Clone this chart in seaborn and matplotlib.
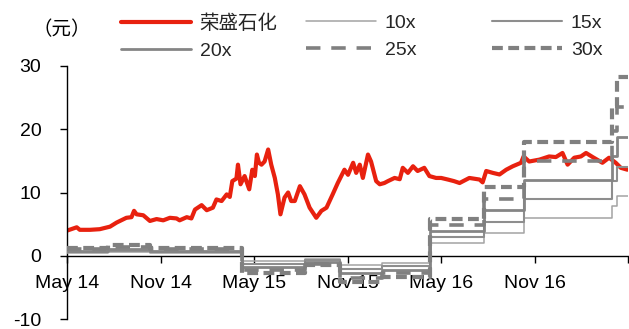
import matplotlib
matplotlib.use('Agg')
import matplotlib.pyplot as plt
import seaborn as sns
import pandas as pd

# ---------------- data ----------------
price_dates = ['2014-05-02','2014-05-20','2014-05-26','2014-06-15','2014-07-04','2014-07-24','2014-08-06','2014-08-25',
               '2014-09-04','2014-09-09','2014-09-14','2014-09-27','2014-10-10','2014-10-23','2014-11-05','2014-11-18',
               '2014-12-01','2014-12-07','2014-12-21','2014-12-30',
               '2015-01-06','2015-01-19','2015-01-29','2015-02-10','2015-02-17','2015-02-27','2015-03-09','2015-03-15',
               '2015-03-20','2015-03-28','2015-03-31','2015-04-05','2015-04-13','2015-04-22','2015-04-28','2015-05-03',
               '2015-05-07','2015-05-11','2015-05-16','2015-05-22','2015-05-29','2015-06-04','2015-06-11','2015-06-17',
               '2015-06-22','2015-06-30','2015-07-07','2015-07-13','2015-07-20','2015-07-30','2015-08-08','2015-08-18',
               '2015-08-31','2015-09-10','2015-09-20','2015-10-02','2015-10-12','2015-10-25','2015-11-01','2015-11-11',
               '2015-11-17','2015-11-24','2015-11-30','2015-12-10','2015-12-16','2015-12-26',
               '2016-01-02','2016-01-11','2016-01-18','2016-01-31','2016-02-10','2016-02-16','2016-02-26','2016-03-07',
               '2016-03-16','2016-03-29','2016-04-08','2016-04-21','2016-05-01','2016-05-14','2016-05-26','2016-06-06',
               '2016-06-25','2016-07-15','2016-07-21','2016-07-28','2016-08-10','2016-08-23','2016-09-05','2016-09-18',
               '2016-10-04','2016-10-09','2016-10-20','2016-11-09','2016-11-28','2016-12-11','2016-12-24',
               '2017-01-03','2017-01-16','2017-01-29','2017-02-08','2017-02-21','2017-03-12','2017-03-25','2017-04-07',
               '2017-04-17','2017-04-30']
price_values = [4.0,4.5,4.1,4.1,4.2,4.6,5.25,6.0,6.1,7.1,6.55,6.4,5.5,5.8,5.6,6.0,5.9,5.6,6.1,5.9,
                7.3,8.0,7.2,7.6,8.9,8.65,9.7,9.3,11.8,12.2,14.4,11.3,12.6,10.5,13.6,12.6,16.0,14.7,14.4,14.9,16.8,
                14.4,12.3,9.7,6.55,9.2,10.0,8.65,8.65,11.0,9.7,7.6,6.0,7.1,7.6,9.7,11.5,13.6,12.8,14.7,13.1,14.4,12.3,
                16.0,14.9,11.8,
                11.3,11.5,11.8,12.3,12.1,13.9,13.1,14.15,13.4,13.9,12.6,12.3,12.3,12.05,11.8,11.5,12.3,12.05,11.6,
                13.4,13.1,12.85,13.6,14.15,14.7,15.7,14.9,15.2,15.7,15.6,16.25,
                14.4,15.5,15.7,16.25,15.6,14.7,15.5,14.7,13.9,13.6]

# trailing EPS (yuan/share) used for the PE bands, by date it takes effect
eps_dates = ['2014-05-01','2014-07-20','2014-10-10','2015-04-07','2015-08-08','2015-10-16',
             '2016-01-07','2016-04-10','2016-07-24','2016-10-10','2017-03-31','2017-04-10']
eps_values = [0.04,0.055,0.04,-0.09,-0.05,-0.14,-0.11,0.195,0.36,0.6,0.79,0.94]
band_end = '2017-05-01'

band_multiples = [10, 15, 20, 25, 30]
band_labels = ['10x', '15x', '20x', '25x', '30x']
price_label = '荣盛石化'
unit_label = '（元）'

y_ticks = [-10, 0, 10, 20, 30]
x_tick_dates = ['2014-05-01','2014-11-01','2015-05-01','2015-11-01','2016-05-01','2016-11-01','2017-05-01']
x_tick_labels = ['May 14','Nov 14','May 15','Nov 15','May 16','Nov 16','']

# ---------------- style ----------------
sns.set_style('white')
plt.rcParams['font.family'] = ['Liberation Sans', 'Noto Sans CJK SC', 'DejaVu Sans']
plt.rcParams['axes.unicode_minus'] = False

RED = '#E8210F'
band_styles = {
    '10x': dict(color='#A3A3A3', lw=1.1, ls='-'),
    '15x': dict(color='#8E8E8E', lw=1.5, ls='-'),
    '20x': dict(color='#858585', lw=2.0, ls='-'),
    '25x': dict(color='#808080', lw=2.6, ls=(0, (4, 3))),
    '30x': dict(color='#808080', lw=3.0, ls=(0, (2.6, 1.3))),
}

fig = plt.figure(figsize=(6.29, 3.29), dpi=100)
ax = fig.add_axes([67/629, 1-319/329, 561/629, 253/329])

sns.lineplot(x=pd.to_datetime(price_dates), y=price_values, ax=ax, color=RED, lw=3.0,
             label=price_label, legend=False, zorder=2)

band_x = pd.to_datetime(eps_dates + [band_end])
for lab, mult in zip(band_labels, band_multiples):
    ys = [e * mult for e in eps_values] + [eps_values[-1] * mult]
    st = band_styles[lab]
    sns.lineplot(x=band_x, y=ys, ax=ax, drawstyle='steps-post', color=st['color'],
                 lw=st['lw'], ls=st['ls'], label=lab, legend=False, zorder=3)

ax.set_xlim(pd.Timestamp('2014-05-01'), pd.Timestamp('2017-05-01'))
ax.set_ylim(-10, 30)
ax.set_yticks(y_ticks)
ax.set_xticks(pd.to_datetime(x_tick_dates))
ax.set_xticklabels(x_tick_labels)
ax.set_xlabel('')
ax.set_ylabel('')

for s in ['top', 'right']:
    ax.spines[s].set_visible(False)
ax.spines['bottom'].set_position(('data', 0))
for s in ['left', 'bottom']:
    ax.spines[s].set_color('black')
    ax.spines[s].set_linewidth(1.0)
ax.tick_params(axis='both', bottom=True, left=True, direction='out', length=5, width=1,
               color='black', labelcolor='black', labelsize=14)
ax.tick_params(axis='y', pad=13.5)
ax.tick_params(axis='x', pad=9)

# ---------------- legend (three columns, two rows) ----------------
handles = {l.get_label(): l for l in ax.get_lines()}
columns = [[price_label, '20x'], ['10x', '25x'], ['15x', '30x']]
col_x = [121/629, 306/629, 492/629]
for cx, col in zip(col_x, columns):
    fig.legend([handles[c] for c in col], col, loc='upper left', bbox_to_anchor=(cx, 1 - 14/329),
               frameon=False, borderpad=0, borderaxespad=0, handlelength=3.6, handletextpad=0.45,
               labelspacing=0.5, fontsize=14)

fig.text(62/629, 1 - 30/329, unit_label, ha='center', va='center', fontsize=14, color='black')

fig.savefig('out.png', dpi=100)
